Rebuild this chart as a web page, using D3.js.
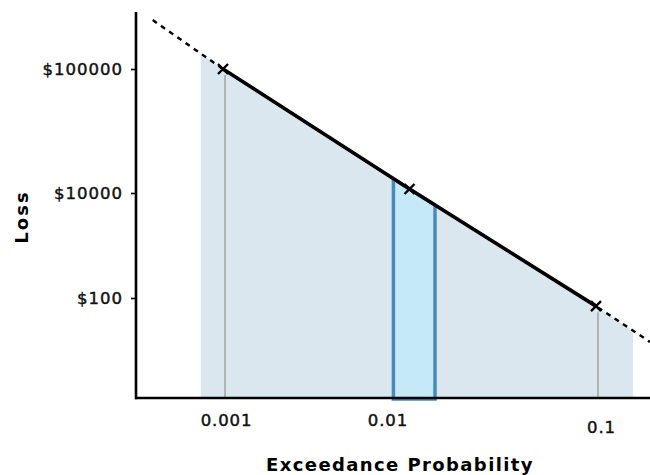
<!DOCTYPE html>
<html>
<head>
<meta charset="utf-8">
<script src="https://cdn.jsdelivr.net/npm/d3@7"></script>
<style>
  html, body { margin: 0; padding: 0; background: #fff; }
  svg { display: block; }
  text { font-family: "DejaVu Sans", sans-serif; }
</style>
</head>
<body>
<svg id="chart" width="650" height="475"></svg>
<script>
// Exceedance probability curve (probability, loss)
const curveProb = [0.00042, 0.001, 0.01, 0.1, 0.195];
const curveLoss = [248000, 100000, 10770, 70, 14.5];
// Solid part of the curve and marked points
const solidRange = [0.001, 0.1];
const markedProb = [0.001, 0.01, 0.1];
// Shaded region and highlighted band (probability ranges)
const shadeRange = [0.00076, 0.158];
const bandRange = [0.0082, 0.0137];
// Vertical guides
const guideProb = [0.001, 0.1];
// Axis ticks
const xTicks = [0.001, 0.01, 0.1];
const xTickLabels = ["0.001", "0.01", "0.1"];
const yTicks = [100, 10000, 100000];
const yTickLabels = ["$100", "$10000", "$100000"];

const svg = d3.select("#chart");
const axisY0 = 398, axisX0 = 136;

const x = d3.scaleLog().domain([0.001, 0.1]).range([223, 596]);
const y = d3.scaleLog().domain(yTicks).range([298, 193, 69]);

const pts = curveProb.map((p, i) => [x(p), y(curveLoss[i])]);

// y pixel on the curve at a given probability (straight segments in pixel space)
function curveY(p) {
  const px = x(p);
  for (let i = 0; i < pts.length - 1; i++) {
    const [x0, y0] = pts[i], [x1, y1] = pts[i + 1];
    if (px >= x0 && px <= x1) return y0 + (y1 - y0) * (px - x0) / (x1 - x0);
  }
  return px < pts[0][0] ? pts[0][1] : pts[pts.length - 1][1];
}
function segmentPoints(p0, p1) {
  const out = [[x(p0), curveY(p0)]];
  curveProb.forEach((p, i) => { if (p > p0 && p < p1) out.push(pts[i]); });
  out.push([x(p1), curveY(p1)]);
  return out;
}

// Shaded region under the curve
const shade = segmentPoints(shadeRange[0], shadeRange[1]);
svg.append("path")
  .attr("d", d3.area().x(d => d[0]).y0(axisY0).y1(d => d[1])(shade))
  .attr("fill", "#dbe7ef");

// Highlighted band
const band = segmentPoints(bandRange[0], bandRange[1]);
const bandPoly = [[band[0][0], axisY0 + 1], ...band, [band[band.length - 1][0], axisY0 + 1]];
svg.append("path")
  .attr("d", d3.line()(bandPoly) + "Z")
  .attr("fill", "#c6e9f7")
  .attr("stroke", "#4a8ab8")
  .attr("stroke-width", 3.5)
  .attr("stroke-linejoin", "miter");

// Vertical guides from the axis up to the curve
svg.selectAll("line.guide").data(guideProb).join("line")
  .attr("class", "guide")
  .attr("x1", d => x(d) + 2).attr("x2", d => x(d) + 2)
  .attr("y1", axisY0).attr("y2", d => curveY(d) + 6)
  .attr("stroke", "#a6a6a6").attr("stroke-width", 1.6);

// Curve: dashed extrapolation, solid fitted part
const line = d3.line();
svg.append("path")
  .attr("d", line(pts))
  .attr("fill", "none").attr("stroke", "#000")
  .attr("stroke-width", 2.4).attr("stroke-dasharray", "5,5");
svg.append("path")
  .attr("d", line(segmentPoints(solidRange[0], solidRange[1])))
  .attr("fill", "none").attr("stroke", "#000")
  .attr("stroke-width", 3.6).attr("stroke-linecap", "butt");

// Cross markers
const s = 5;
svg.selectAll("path.mark").data(markedProb).join("path")
  .attr("class", "mark")
  .attr("d", d => {
    const cx = x(d), cy = curveY(d);
    return `M${cx - s},${cy - s}L${cx + s},${cy + s}M${cx - s},${cy + s}L${cx + s},${cy - s}`;
  })
  .attr("stroke", "#000").attr("stroke-width", 2.4);

// X axis line and labels
svg.append("line")
  .attr("x1", axisX0 - 1).attr("x2", 650).attr("y1", axisY0).attr("y2", axisY0)
  .attr("stroke", "#000").attr("stroke-width", 2.6);
const xLabelShift = { "0.001": [3, 0], "0.01": [-22, 0], "0.1": [5, 7] };
const xAxis = d3.axisBottom(x).tickValues(xTicks)
  .tickFormat((d, i) => xTickLabels[i]).tickSize(0).tickPadding(0);
const gx = svg.append("g").attr("transform", `translate(0,${axisY0})`).call(xAxis);
gx.select(".domain").remove();
gx.selectAll(".tick text")
  .attr("dx", (d, i) => xLabelShift[xTickLabels[i]][0])
  .attr("dy", (d, i) => 28 + xLabelShift[xTickLabels[i]][1])
  .attr("font-family", "DejaVu Sans, sans-serif")
  .attr("font-size", 16.5).attr("letter-spacing", 0.9)
  .attr("fill", "#111").attr("stroke", "#111").attr("stroke-width", 0.45);

// Y axis
svg.append("line")
  .attr("x1", axisX0).attr("x2", axisX0).attr("y1", 12).attr("y2", axisY0 + 1.3)
  .attr("stroke", "#000").attr("stroke-width", 2.6);
const yAxis = d3.axisLeft(y).tickValues(yTicks)
  .tickFormat((d, i) => yTickLabels[i]).tickSize(5).tickPadding(8);
const gy = svg.append("g").attr("transform", `translate(${axisX0},0)`).call(yAxis);
gy.select(".domain").remove();
gy.selectAll(".tick line").attr("stroke", "#000").attr("stroke-width", 1.6);
gy.selectAll(".tick text")
  .attr("font-family", "DejaVu Sans, sans-serif")
  .attr("font-size", 16.5).attr("letter-spacing", 1.0)
  .attr("fill", "#111").attr("stroke", "#111").attr("stroke-width", 0.45);

// Axis titles
svg.append("text")
  .attr("x", 400).attr("y", 471).attr("text-anchor", "middle")
  .attr("font-weight", "bold").attr("font-size", 18).attr("letter-spacing", 1.4)
  .text("Exceedance Probability");
svg.append("text")
  .attr("transform", "translate(28,217) rotate(-90)")
  .attr("text-anchor", "middle")
  .attr("font-weight", "bold").attr("font-size", 18).attr("letter-spacing", 2)
  .text("Loss");
</script>
</body>
</html>
